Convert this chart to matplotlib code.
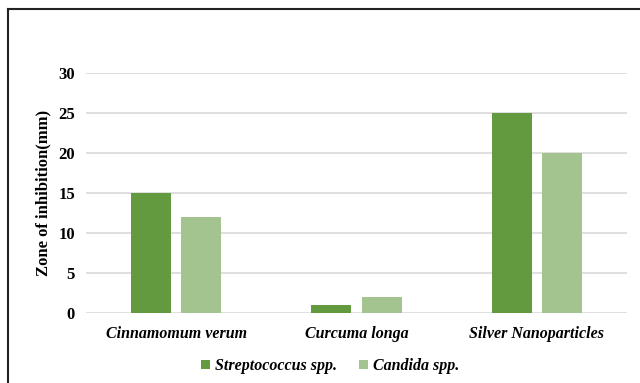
import matplotlib.pyplot as plt
import numpy as np
from matplotlib.lines import Line2D

plt.rcParams['font.family'] = 'Liberation Serif'
plt.rcParams['font.weight'] = 'bold'

categories = ['Cinnamomum verum', 'Curcuma longa', 'Silver Nanoparticles']
series_names = ['Streptococcus spp.', 'Candida spp.']
strep = [15, 1, 25]
candida = [12, 2, 20]
yticks = [0, 5, 10, 15, 20, 25, 30]

dark = '#639a3f'
light = '#a3c48f'

fig = plt.figure(figsize=(6.4, 3.83), dpi=100)
ax = fig.add_axes([86 / 640, 1 - 313 / 383, 541 / 640, 240 / 383])

x = np.arange(len(categories))
w = 0.222
ax.bar(x - 0.139, strep, w, color=dark, label=series_names[0], zorder=3)
ax.bar(x + 0.139, candida, w, color=light, label=series_names[1], zorder=3)

ax.set_xlim(-0.5, 2.5)
ax.set_ylim(0, 30)
ax.set_yticks(yticks)
ax.set_yticklabels([str(t) for t in yticks], fontsize=12, fontweight='bold')
ax.set_xticks(x)
ax.set_xticklabels(categories, fontsize=11.5, fontweight='bold', style='italic')
ax.tick_params(axis='both', length=0)
ax.tick_params(axis='y', pad=8)
ax.tick_params(axis='x', pad=9)
ax.grid(axis='y', color='#dcdcdc', linewidth=1.3, zorder=0)
for s in ax.spines.values():
    s.set_visible(False)

ax.set_ylabel('Zone of inhibition(mm)', fontsize=12, fontweight='bold', labelpad=5)

leg = fig.legend(loc='center', bbox_to_anchor=(330 / 640, 1 - 366 / 383), ncol=2,
                 frameon=False, handlelength=0.55, handleheight=0.55,
                 handletextpad=0.3, columnspacing=1.4,
                 prop={'size': 11.5, 'weight': 'bold', 'style': 'italic'})

# outer frame (top and left edges)
fig.add_artist(Line2D([8 / 640, 1], [1 - 9 / 383, 1 - 9 / 383], color='#222222', linewidth=1.5))
fig.add_artist(Line2D([8 / 640, 8 / 640], [0, 1 - 9 / 383], color='#222222', linewidth=1.5))

fig.savefig('out.png', dpi=100)
